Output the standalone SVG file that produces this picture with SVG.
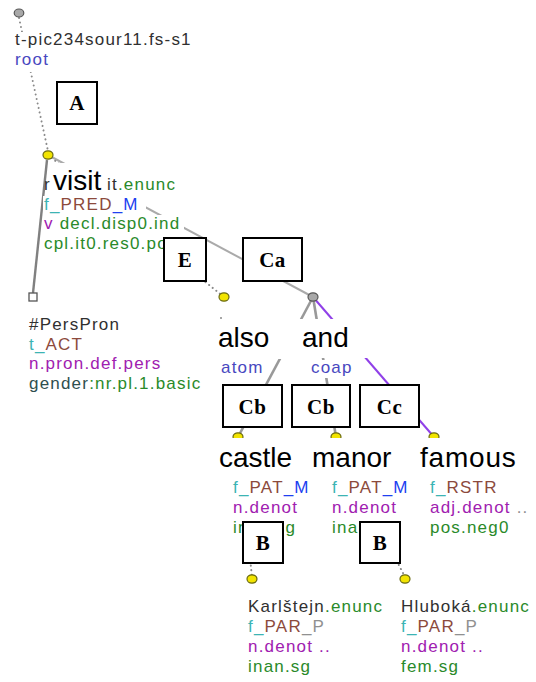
<svg xmlns="http://www.w3.org/2000/svg" width="536" height="682" viewBox="0 0 536 682">
<style>
.t{font-family:"Liberation Sans",Arial,sans-serif;font-size:17px;letter-spacing:1.2px}
.big{font-family:"Liberation Sans",Arial,sans-serif;font-size:28px;fill:#000}
.bg{fill:#fff}
.dk{fill:#303030}
.gr{fill:#2a8a2a}
.te{fill:#3cb4b4}
.br{fill:#8c4a3c}
.bl{fill:#2040f0}
.pu{fill:#a020b0}
.sb{fill:#4848c0}
.gy{fill:#909090}
.ds{fill:#2f4f4f}
.yn{fill:#f2e400;stroke:#6a6a10;stroke-width:1.2}
.gn{fill:#a8a8a8;stroke:#555;stroke-width:1.2}
.dot{fill:none;stroke:#8a8a8a;stroke-width:2;stroke-dasharray:0.1 4.5;stroke-linecap:round}
.ln{fill:none;stroke:#aaa;stroke-width:2}
.lbl rect{fill:#fff;stroke:#000;stroke-width:2}
.lbl text{font-family:"Liberation Serif","Times New Roman",serif;font-weight:bold;font-size:21px;text-anchor:middle;fill:#000;letter-spacing:0.5px}
</style>
<rect width="536" height="682" fill="#fff"/>
<g id="connectors">
<line class="dot" x1="19" y1="18" x2="48" y2="151"/>
<line x1="47" y1="160" x2="33" y2="293" stroke="#808080" stroke-width="2.4"/>
<line class="ln" x1="48" y1="155" x2="313" y2="297"/>
<line class="dot" x1="48" y1="155" x2="224" y2="297"/>
<circle cx="221" cy="318" r="1" fill="#8a8a8a"/>
<line x1="313" y1="297" x2="238" y2="437" stroke="#999" stroke-width="2.6"/>
<line x1="313" y1="297" x2="336" y2="437" stroke="#999" stroke-width="2.6"/>
<line x1="313" y1="297" x2="434" y2="437" stroke="#9040e8" stroke-width="2"/>
<line class="dot" x1="238" y1="442" x2="252" y2="577"/>
<line class="dot" x1="336" y1="442" x2="405" y2="577"/>
</g>
<g id="n-root">
<ellipse class="gn" cx="19" cy="13" rx="4.8" ry="4"/>
<rect class="bg" x="13" y="32" width="182" height="20"/>
<rect class="bg" x="13" y="52" width="40" height="20"/>
<text class="t dk" x="15" y="45">t-pic234sour11.fs-s1</text>
<text class="t sb" x="15" y="65">root</text>
</g>
<g id="n-visit">
<ellipse class="yn" cx="48" cy="155" rx="5" ry="4.2"/>
<rect class="bg" x="51" y="163" width="55" height="34"/>
<rect class="bg" x="106" y="175" width="72" height="21"/>
<rect class="bg" x="43" y="196" width="103" height="19"/>
<rect class="bg" x="43" y="215" width="141" height="19"/>
<rect class="bg" x="43" y="234" width="125" height="20"/>
<text class="t dk" x="44" y="190">r</text>
<text class="big" x="53" y="190">visit</text>
<text class="t" x="107" y="190"><tspan class="dk">it</tspan><tspan class="gr">.enunc</tspan></text>
<text class="t" x="44" y="210"><tspan class="te">f_</tspan><tspan class="br">PRED</tspan><tspan class="bl">_M</tspan></text>
<text class="t" x="44" y="229"><tspan class="pu">v</tspan><tspan class="gr"> decl.disp0.ind</tspan></text>
<text class="t gr" x="44" y="249">cpl.it0.res0.po</text>
</g>
<g id="n-perspron">
<rect x="29" y="293" width="8" height="8" fill="#fff" stroke="#555" stroke-width="1.3"/>
<text class="t dk" x="29" y="330">#PersPron</text>
<text class="t" x="29" y="350"><tspan class="te">t_</tspan><tspan class="br">ACT</tspan></text>
<text class="t pu" x="29" y="369">n.pron.def.pers</text>
<text class="t" x="29" y="389"><tspan class="ds">gender</tspan><tspan class="gr">:nr.pl.1.basic</tspan></text>
</g>
<g id="n-also">
<ellipse class="yn" cx="224" cy="297" rx="5" ry="4.2"/>
<rect class="bg" x="215" y="319" width="86" height="40"/>
<rect class="bg" x="219" y="360" width="46" height="18"/>
<text class="big" x="218" y="347">also</text>
<text class="t sb" x="221" y="373">atom</text>
</g>
<g id="n-and">
<ellipse class="gn" cx="313" cy="297" rx="5" ry="4.2"/>
<rect class="bg" x="299" y="319" width="75" height="39"/>
<rect class="bg" x="309" y="360" width="47" height="18"/>
<text class="big" x="302" y="347">and</text>
<text class="t sb" x="311" y="373">coap</text>
</g>
<g id="n-castle">
<ellipse class="yn" cx="238" cy="437" rx="5" ry="4.2"/>
<rect class="bg" x="216" y="438" width="82" height="39"/>
<rect class="bg" x="231" y="477" width="82" height="60"/>
<text class="big" x="219" y="467">castle</text>
<text class="t" x="233" y="493"><tspan class="te">f_</tspan><tspan class="br">PAT</tspan><tspan class="bl">_M</tspan></text>
<text class="t pu" x="233" y="513">n.denot</text>
<text class="t gr" x="233" y="533">inan.sg</text>
</g>
<g id="n-manor">
<ellipse class="yn" cx="336" cy="437" rx="5" ry="4.2"/>
<rect class="bg" x="308" y="438" width="87" height="39"/>
<rect class="bg" x="330" y="477" width="82" height="60"/>
<text class="big" x="312" y="467">manor</text>
<text class="t" x="332" y="493"><tspan class="te">f_</tspan><tspan class="br">PAT</tspan><tspan class="bl">_M</tspan></text>
<text class="t pu" x="332" y="513">n.denot</text>
<text class="t gr" x="332" y="533">inan.sg</text>
</g>
<g id="n-famous">
<ellipse class="yn" cx="434" cy="437" rx="5" ry="4.2"/>
<rect class="bg" x="416" y="438" width="110" height="39"/>
<text class="big" x="420" y="467" letter-spacing="0.8">famous</text>
<text class="t" x="430" y="493"><tspan class="te">f_</tspan><tspan class="br">RSTR</tspan></text>
<text class="t" x="430" y="513"><tspan class="pu">adj.denot</tspan><tspan class="gy"> ..</tspan></text>
<text class="t gr" x="430" y="533">pos.neg0</text>
</g>
<g id="n-karlstejn">
<ellipse class="yn" cx="252" cy="579" rx="5" ry="4.2"/>
<text class="t" x="248" y="612"><tspan class="dk">Karlštejn</tspan><tspan class="gr">.enunc</tspan></text>
<text class="t" x="248" y="632"><tspan class="te">f_</tspan><tspan class="br">PAR</tspan><tspan class="gy">_P</tspan></text>
<text class="t pu" x="248" y="652">n.denot ..</text>
<text class="t gr" x="248" y="672">inan.sg</text>
</g>
<g id="n-hluboka">
<ellipse class="yn" cx="405" cy="579" rx="5" ry="4.2"/>
<text class="t" x="401" y="612"><tspan class="dk">Hluboká</tspan><tspan class="gr">.enunc</tspan></text>
<text class="t" x="401" y="632"><tspan class="te">f_</tspan><tspan class="br">PAR</tspan><tspan class="gy">_P</tspan></text>
<text class="t pu" x="401" y="652">n.denot ..</text>
<text class="t gr" x="401" y="672">fem.sg</text>
</g>
<g id="labels" class="lbl">
<g id="lbl-A"><rect x="57" y="82" width="40" height="42"/><text x="77" y="110">A</text></g>
<g id="lbl-E"><rect x="164" y="238" width="42" height="43"/><text x="185" y="267">E</text></g>
<g id="lbl-Ca"><rect x="243" y="238" width="59" height="43"/><text x="272.5" y="267">Ca</text></g>
<g id="lbl-Cb1"><rect x="223" y="385" width="59" height="42"/><text x="252.5" y="414">Cb</text></g>
<g id="lbl-Cb2"><rect x="292" y="385" width="58" height="42"/><text x="321" y="414">Cb</text></g>
<g id="lbl-Cc"><rect x="360" y="385" width="59" height="42"/><text x="389.5" y="414">Cc</text></g>
<g id="lbl-B1"><rect x="243" y="522" width="40" height="41"/><text x="263" y="550">B</text></g>
<g id="lbl-B2"><rect x="360" y="522" width="40" height="41"/><text x="380" y="550">B</text></g>
</g>
</svg>
